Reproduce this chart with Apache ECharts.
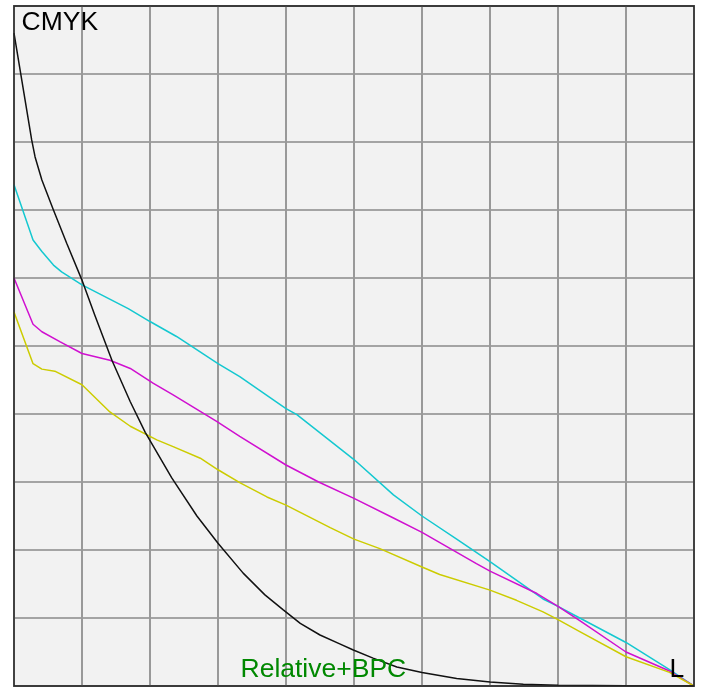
<!DOCTYPE html>
<html>
<head>
<meta charset="utf-8">
<script src="https://cdn.jsdelivr.net/npm/echarts@6/dist/echarts.min.js"></script>
<style>
html,body{margin:0;padding:0;background:#fff;}
#chart{width:703px;height:688px;}
</style>
</head>
<body>
<div id="chart"></div>
<script>
// Black (K) curve
const kX = [0, 2.6, 3.1, 4.1, 5.8, 7.75, 9.95, 11.9, 14.4, 17.1, 19.3, 23.2, 26.9, 30.0, 33.7, 36.9, 39.6, 42.1, 45.0, 47.9, 49.9, 52.8, 56.3, 60, 65.1, 70, 74.9, 80, 90, 100];
const kY = [96.0, 80.3, 77.8, 74.4, 70.0, 65.1, 59.8, 54.5, 47.9, 41.8, 37.3, 30.6, 25.0, 21.0, 16.6, 13.4, 11.2, 9.2, 7.5, 6.2, 5.3, 4.1, 2.8, 2.0, 1.1, 0.6, 0.25, 0.12, 0.03, 0];
// Cyan curve
const cX = [0, 2.8, 4.1, 5.8, 7.0, 10.0, 16.8, 20, 23.9, 30, 33.2, 40, 41.6, 50, 55.8, 60, 65.1, 70, 77.8, 80, 83.2, 90, 96.4, 100];
const cY = [73.7, 65.6, 63.9, 61.9, 60.9, 59.0, 55.5, 53.6, 51.4, 47.4, 45.5, 40.8, 39.9, 33.3, 28.1, 25.0, 21.6, 18.3, 12.8, 11.7, 10.0, 6.4, 2.4, 0];
// Magenta curve
const mX = [0, 2.8, 4.1, 6.8, 10, 14.1, 17.1, 20.5, 23.4, 29.8, 33.2, 40, 44.8, 50, 55.8, 60, 68, 70, 76.9, 80, 83.2, 90, 96.4, 100];
const mY = [60.0, 53.2, 52.1, 50.6, 48.9, 47.9, 46.7, 44.5, 42.8, 38.9, 36.7, 32.5, 30.0, 27.6, 24.7, 22.6, 18.0, 16.9, 13.6, 11.7, 9.6, 5.0, 2.2, 0];
// Yellow curve
const yX = [0, 2.8, 4.1, 6.0, 10, 14.1, 17.1, 21.0, 23.4, 27.4, 30, 33.2, 37.2, 40, 46.5, 50, 53.8, 60, 62.6, 70, 73.9, 77.8, 80, 83.2, 90, 96.4, 100];
const yY = [55.0, 47.4, 46.6, 46.3, 44.3, 40.3, 38.2, 36.2, 35.2, 33.5, 31.8, 29.9, 27.8, 26.6, 23.3, 21.6, 20.2, 17.5, 16.4, 14.1, 12.6, 10.9, 9.75, 8.0, 4.3, 2.0, 0];

const labelTop = 'CMYK';
const labelRight = 'L';
const labelBottom = 'Relative+BPC';

function pairs(xs, ys) { return xs.map((x, i) => [x, ys[i]]); }

const chart = echarts.init(document.getElementById('chart'), null, {renderer: 'canvas'});
const font = '"Liberation Sans", Arial, sans-serif';
function mkSeries(name, xs, ys, color) {
  return {
    name: name, type: 'line', data: pairs(xs, ys), showSymbol: false, symbol: 'none',
    smooth: false, animation: false, silent: true,
    lineStyle: {color: color, width: 1.5}
  };
}
chart.setOption({
  animation: false,
  backgroundColor: '#ffffff',
  grid: {left: 14, top: 6, width: 680, height: 680, show: true, backgroundColor: '#f2f2f2', borderColor: '#222', borderWidth: 1.5, containLabel: false},
  xAxis: {type: 'value', min: 0, max: 100, interval: 10,
    axisLine: {show: false}, axisTick: {show: false}, axisLabel: {show: false},
    splitLine: {show: true, lineStyle: {color: '#999999', width: 2}}},
  yAxis: {type: 'value', min: 0, max: 100, interval: 10,
    axisLine: {show: false}, axisTick: {show: false}, axisLabel: {show: false},
    splitLine: {show: true, lineStyle: {color: '#8a8a8a', width: 1.5}}},
  series: [
    mkSeries('C', cX, cY, '#14c8d0'),
    mkSeries('M', mX, mY, '#d010d0'),
    mkSeries('Y', yX, yY, '#cccc00'),
    mkSeries('K', kX, kY, '#111111')
  ],
  graphic: [
    {type: 'rect', z: 50, silent: true, shape: {x: 14, y: 6, width: 680, height: 680}, style: {fill: 'none', stroke: '#262626', lineWidth: 1.5}},
    {type: 'text', z: 100, left: 21.5, top: 9.5, style: {text: labelTop, font: '26.5px ' + font, fill: '#000'}},
    {type: 'text', z: 100, left: 240.5, top: 656, style: {text: labelBottom, font: '26.5px ' + font, fill: '#008800'}},
    {type: 'text', z: 100, left: 669.5, top: 656, style: {text: labelRight, font: '26.5px ' + font, fill: '#000'}}
  ]
});
</script>
</body>
</html>
